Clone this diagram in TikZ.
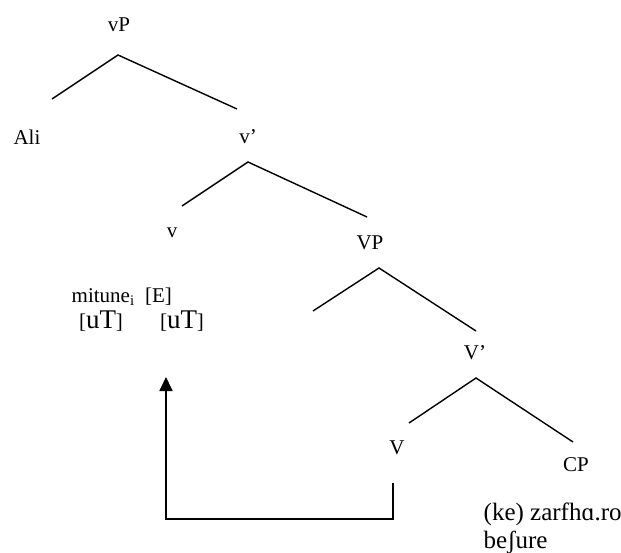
\documentclass[tikz,border=0pt]{standalone}
\usepackage{fontspec}
\setmainfont{Liberation Serif}
\usetikzlibrary{arrows.meta}
\begin{document}
\begin{tikzpicture}[x=1pt,y=-1pt,line width=1.4pt,
    lbl/.style={inner sep=0pt,font=\fontsize{21}{24}\selectfont}]
        \useasboundingbox (0,0) rectangle (621,553);
        \node[lbl] (vP) at (119,25) {vP};
        \node[lbl] (Ali) at (27,137) {Ali};
        \node[lbl] (v1) at (248,137) {v’};
        \node[lbl] (v) at (172,233) {v};
        \node[lbl] (VP) at (370,243) {VP};
        \node[lbl] (V1) at (475,353) {V’};
        \node[lbl] (V) at (397,448) {V};
        \node[lbl] (CP) at (576,465) {CP};
        \node[lbl,anchor=west,font=\fontsize{25}{28}\selectfont] (CPa) at (483,514) {(ke) zarfhɑ.ro};
        \node[lbl,anchor=west,font=\fontsize{25}{28}\selectfont] (CPb) at (483,543) {beʃure};
        \node[lbl,anchor=west,font=\fontsize{21}{22}\selectfont] (mit) at (71,297) {mitune\textsubscript{i}\ \ [E]};
        \node[lbl] (uT1) at (101,321) {{\fontsize{21}{22}\selectfont[}{\fontsize{27}{28}\selectfont uT}{\fontsize{21}{22}\selectfont]}};
        \node[lbl] (uT2) at (182,321) {{\fontsize{21}{22}\selectfont[}{\fontsize{27}{28}\selectfont uT}{\fontsize{21}{22}\selectfont]}};
        % branches
        \coordinate (a1) at (118,55);
        \coordinate (l1) at (52,99);
        \coordinate (r1) at (237,109);
        \coordinate (a2) at (248,162);
        \coordinate (l2) at (182,206);
        \coordinate (r2) at (367,217);
        \coordinate (a3) at (379,268);
        \coordinate (l3) at (313,311);
        \coordinate (r3) at (476,331);
        \coordinate (a4) at (476,378);
        \coordinate (l4) at (409,423);
        \coordinate (r4) at (573,442);
        \draw (l1) -- (a1) -- (r1);
        \draw (l2) -- (a2) -- (r2);
        \draw (l3) -- (a3) -- (r3);
        \draw (l4) -- (a4) -- (r4);
        % movement
        \coordinate (Vfoot) at (393,483);
        \coordinate (tip) at (166,377);
        \draw[line width=1.8pt,-{Triangle[width=13pt,length=14pt]}] (Vfoot) -- (Vfoot |- 0,519) -| (tip);
      \end{tikzpicture}
\end{document}
